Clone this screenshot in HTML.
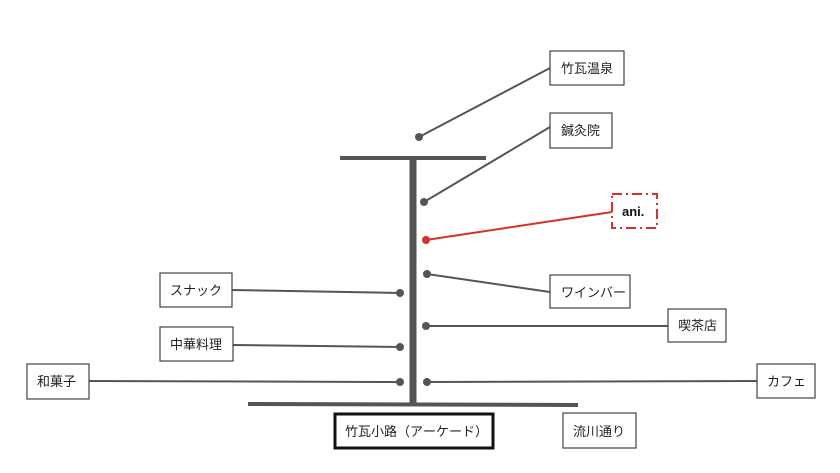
<!DOCTYPE html>
<html><head><meta charset="utf-8"><style>
html,body{margin:0;padding:0;background:#fff;}
svg{display:block;}
text{font-family:"Liberation Sans","Noto Sans CJK JP",sans-serif;font-size:13px;fill:#222;}
</style></head><body>
<svg width="840" height="473" xmlns="http://www.w3.org/2000/svg">
<g stroke="#555" fill="none">
<line x1="340" y1="158" x2="486" y2="158" stroke-width="4"/>
<line x1="413" y1="158" x2="413" y2="404" stroke-width="7"/>
<line x1="248" y1="404" x2="578" y2="405" stroke-width="4"/>
<g stroke-width="2">
<line x1="419" y1="137" x2="550" y2="68"/>
<line x1="424" y1="202" x2="550" y2="127"/>
<line x1="427" y1="274" x2="550" y2="292"/>
<line x1="426" y1="326" x2="668" y2="326"/>
<line x1="427" y1="382" x2="757" y2="381"/>
<line x1="232" y1="290" x2="400" y2="293"/>
<line x1="233" y1="345" x2="400" y2="347"/>
<line x1="89" y1="381" x2="400" y2="382"/>
</g>
</g>
<line x1="426" y1="240" x2="612" y2="212" stroke="#d93025" stroke-width="2"/>
<g fill="#555">
<circle cx="419" cy="137" r="4"/><circle cx="424" cy="202" r="4"/>
<circle cx="427" cy="274" r="4"/><circle cx="426" cy="326" r="4"/><circle cx="427" cy="382" r="4"/>
<circle cx="400" cy="293" r="4"/><circle cx="400" cy="347" r="4"/><circle cx="400" cy="382" r="4"/>
</g>
<circle cx="426" cy="240" r="4" fill="#d93025"/>
<g fill="#fff" stroke="#444" stroke-width="1.2">
<rect x="550" y="51" width="74" height="34"/>
<rect x="550" y="113" width="62" height="35"/>
<rect x="550" y="275" width="80" height="33"/>
<rect x="668" y="309" width="58" height="33"/>
<rect x="757" y="364" width="58" height="34"/>
<rect x="160" y="273" width="72" height="34"/>
<rect x="160" y="327" width="73" height="34"/>
<rect x="27" y="364" width="62" height="35"/>
<rect x="563" y="413" width="73" height="35"/>
</g>
<rect x="335" y="414" width="158" height="34" fill="#fff" stroke="#111" stroke-width="3"/>
<rect x="612" y="194" width="45" height="34" fill="#fff" stroke="#d93025" stroke-width="2" stroke-dasharray="10,4,2,4"/>
<text x="561" y="73">竹瓦温泉</text>
<text x="561" y="135">鍼灸院</text>
<text x="622" y="216" style="font-weight:bold;fill:#111">ani.</text>
<text x="561" y="297">ワインバー</text>
<text x="678" y="330">喫茶店</text>
<text x="767" y="386">カフェ</text>
<text x="170" y="295">スナック</text>
<text x="170" y="349">中華料理</text>
<text x="37" y="386">和菓子</text>
<text x="345" y="436">竹瓦小路（アーケード）</text>
<text x="573" y="436">流川通り</text>
</svg>
</body></html>
